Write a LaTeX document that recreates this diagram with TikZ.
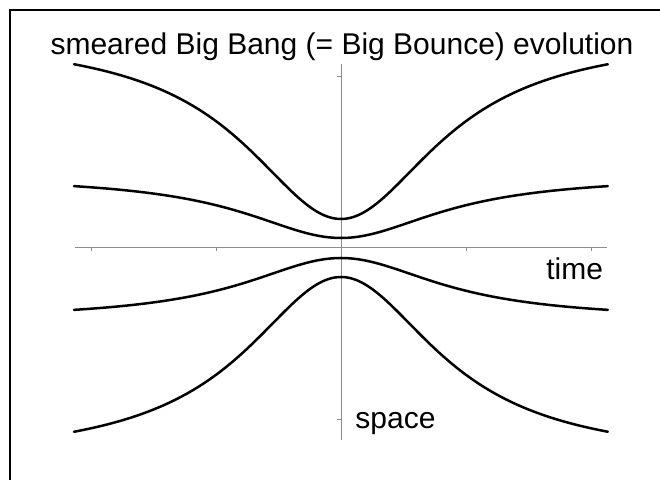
\documentclass[tikz,border=0pt]{standalone}
\usepackage{fontspec}
\setmainfont{Liberation Sans}
\tikzstyle{worldline} = [line width=1.25pt, black, smooth, line cap=round]
\tikzstyle{axisline} = [line width=0.5pt, black!45]
\tikzstyle{frameline} = [line width=1pt, black]
\tikzstyle{plotlabel} = [font=\fontsize{15}{18}\selectfont, inner sep=0pt]

\begin{document}
\begin{tikzpicture}[x=0.5pt, y=-0.5pt]
\useasboundingbox (0,0) rectangle (660,480);

% Frame (top and left edge)
\draw[frameline] (660,10) -- (10,10) -- (10,480);

% Axes with small ticks
\draw[axisline] (75,248) -- (607,248);
\draw[axisline] (341,64) -- (341,440);
\foreach \tx in {91,216,466,591} \draw[axisline] (\tx,248) -- (\tx,251);
\foreach \ty in {77,420} \draw[axisline] (341,\ty) -- (337,\ty);

% Upper world lines
\draw[worldline] plot[domain=-2.263:2.263, samples=121] ({341+118*\x}, {34+185/(1+\x*\x)});
\draw[worldline] plot[domain=-2.263:2.263, samples=121] ({341+118*\x}, {176+62/(1+\x*\x)});

% Lower world lines
\draw[worldline] plot[domain=-2.263:2.263, samples=121] ({341+118*\x}, {320-62/(1+\x*\x)});
\draw[worldline] plot[domain=-2.263:2.263, samples=121] ({341+118*\x}, {462-185/(1+\x*\x)});

% Labels
\node[plotlabel, anchor=base] (title) at (342,55) {smeared Big Bang (= Big Bounce) evolution};
\node[plotlabel, anchor=base west] (timelabel) at (546,280) {time};
\node[plotlabel, anchor=base west] (spacelabel) at (355,429) {space};

\end{tikzpicture}
\end{document}
